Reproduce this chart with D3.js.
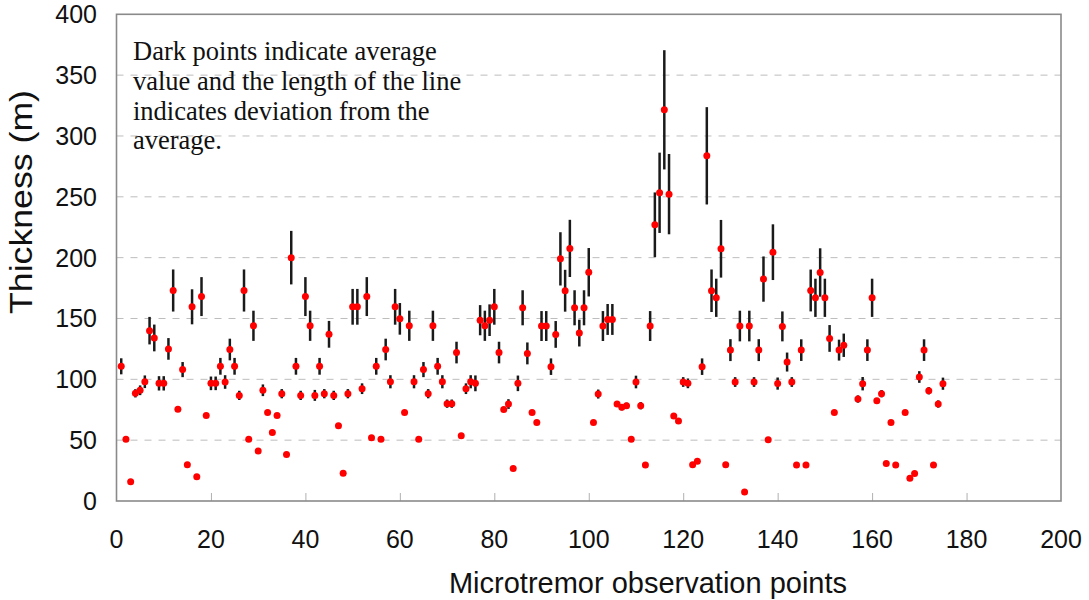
<!DOCTYPE html>
<html>
<head>
<meta charset="utf-8">
<script src="https://cdn.jsdelivr.net/npm/d3@7"></script>
<style>
  html, body { margin: 0; padding: 0; background: #fff; }
  svg { display: block; }
</style>
</head>
<body>
<svg id="chart" width="1089" height="600"></svg>
<script>
// ---- Data ----
const obsPoints = [
  1,2,3,4,5,6,7,8,9,10,11,12,13,14,15,16,17,18,19,20,
  21,22,23,24,25,26,27,28,29,30,31,32,33,34,35,36,37,38,39,40,
  41,42,43,44,45,46,47,48,49,50,51,52,53,54,55,56,57,58,59,60,
  61,62,63,64,65,66,67,68,69,70,71,72,73,74,75,76,77,78,79,80,
  81,82,83,84,85,86,87,88,89,90,91,92,93,94,95,96,97,98,99,100,
  101,102,103,104,105,106,107,108,109,110,111,112,113,114,115,116,117,118,119,120,
  121,122,123,124,125,126,127,128,129,130,131,132,133,134,135,136,137,138,139,140,
  141,142,143,144,145,146,147,148,149,150,151,152,153,154,157,158,159,160,
  161,162,163,164,165,167,168,169,170,171,172,173,174,175
];
const thickness = [
  110.7,50.8,15.9,88.5,91,98,140,134,96.7,96.7,125,173,75.5,108,29.7,159.6,20,168,70.3,96.7,
  96.7,110.7,97.8,124.5,110.7,86.8,173,50.8,144,41,91,72.8,56.3,70.3,88.2,38.2,200,110.7,86.8,168,
  144,86.8,110.7,88.2,137,86.8,61.8,22.8,88.2,159.6,159.6,92.3,168,52,110.7,50.8,124.5,98,159.6,149.7,
  72.8,144,98,50.8,108,88.2,144,110.7,98,80,80,122,53.6,92.3,98,96.7,148.6,144,148.6,159.6,
  122,75.3,79.7,26.8,96.7,158.8,121.3,72.8,64.6,143.8,143.8,110.4,136.9,199,172.8,207.6,158.8,138,158.8,188,
  64.6,87.9,143.8,149.2,149.2,79.7,77,78.3,50.7,97.8,78.3,29.6,143.8,227,253.3,321.5,252.2,69.8,65.7,97.8,
  96.7,29.7,32.6,110.4,283.7,172.8,167,207.3,29.8,124,97.8,143.8,7.4,143.8,97.8,124,182.4,50.4,204.5,96.5,
  143.5,114.2,97.8,29.6,124,29.6,173,167,187.8,167,133.6,72.8,124,128,83.8,96.4,124,167,
  82.4,88.2,30.9,64.6,29.6,72.8,18.6,22.7,101.9,124,90.6,29.6,79.7,96.4
];
const deviation = [
  6.6,0,0,3.4,4,5.2,11.3,11,5.9,5.9,8.9,17.3,0,6.2,0,14.4,0,16,0,5.6,
  5.6,6.9,5.6,8.9,6.9,3.8,17.3,0,12.4,0,4.8,0,0,0,3.8,0,22,6.9,3.8,16,
  12.4,4.5,6.9,3.8,11,3.8,0,0,3.8,14.7,14.7,4.4,16,0,6.9,0,8.9,5.4,14.7,13,
  0,12.4,5.4,0,6.2,3.8,12.4,6.9,5.4,3.4,3.4,8.9,0,4.4,5.4,6.5,12.4,12.4,13,14.7,
  8.9,1.5,4,0,6.4,14.4,9,0,0,12.3,12.3,6.8,11,21.9,17.2,23.5,14.4,11,14.4,19.9,
  0,3.7,12.3,12.7,12.7,2,2.5,2.5,0,5.2,3,0,12.3,26.6,33,49,33,0,0,4,
  4,0,0,6.8,40,17.5,15.7,23.7,0,9,4,12.6,0,12.6,4,9,18.6,0,22.9,5,
  12.3,7.8,4,0,8.9,0,17.2,15.7,19.9,15.7,11,2,8.6,9.6,3,5.5,8.9,15.7,
  0,3,0,0,0,0,0,0,4.8,8.9,3,0,3,5
];
const xTicks = [0,20,40,60,80,100,120,140,160,180,200];
const yTicks = [0,50,100,150,200,250,300,350,400];
const yGrid = [50,100,150,200,250,300,350];
const noteLines = [
  "Dark points indicate average",
  "value and the length of the line",
  "indicates deviation from the",
  "average."
];
const xTitle = "Microtremor observation points";
const yTitle = "Thickness (m)";

// ---- Drawing ----
const svg = d3.select("#chart");
const x = d3.scaleLinear().domain([0, 200]).range([116.5, 1061]);
const y = d3.scaleLinear().domain([0, 400]).range([501, 14.3]);

const data = obsPoints.map((p, i) => ({ p, v: thickness[i], d: deviation[i] }));

// gridlines
svg.append("g").selectAll("line").data(yGrid).join("line")
  .attr("x1", x(0)).attr("x2", x(200))
  .attr("y1", d => y(d)).attr("y2", d => y(d))
  .attr("stroke", "#bdbdbd").attr("stroke-width", 1)
  .attr("stroke-dasharray", "7,7");

// x axis ticks (inward) using d3 axis
const xAxis = d3.axisBottom(x).tickValues(xTicks.slice(1, -1)).tickSize(-8).tickFormat("");
const gx = svg.append("g").attr("transform", `translate(0,${y(0)})`).call(xAxis);
gx.select(".domain").remove();
gx.selectAll(".tick line").attr("stroke", "#b0b0b0").attr("stroke-width", 1);

// frame
svg.append("rect")
  .attr("x", x(0)).attr("y", y(400))
  .attr("width", x(200) - x(0)).attr("height", y(0) - y(400))
  .attr("fill", "none").attr("stroke", "#8a8a8a").attr("stroke-width", 1.6);

// tick labels
svg.append("g").selectAll("text").data(xTicks).join("text")
  .attr("x", d => x(d)).attr("y", 548)
  .attr("text-anchor", "middle")
  .attr("font-family", "'Liberation Sans', Arial, sans-serif")
  .attr("font-size", 25).attr("fill", "#111")
  .text(d => d);

svg.append("g").selectAll("text").data(yTicks).join("text")
  .attr("x", 97).attr("y", d => y(d))
  .attr("text-anchor", "end").attr("dominant-baseline", "central")
  .attr("font-family", "'Liberation Sans', Arial, sans-serif")
  .attr("font-size", 25).attr("fill", "#111")
  .text(d => d);

// axis titles
svg.append("text")
  .attr("x", 648).attr("y", 593)
  .attr("text-anchor", "middle")
  .attr("font-family", "'Liberation Sans', Arial, sans-serif")
  .attr("font-size", 29).attr("fill", "#111")
  .text(xTitle);

svg.append("text")
  .attr("transform", "translate(32,202) rotate(-90)")
  .attr("text-anchor", "middle")
  .attr("font-family", "'Liberation Sans', Arial, sans-serif")
  .attr("font-size", 31).attr("fill", "#111")
  .attr("textLength", 224).attr("lengthAdjust", "spacingAndGlyphs")
  .text(yTitle);

// note
svg.append("g").selectAll("text").data(noteLines).join("text")
  .attr("x", 133).attr("y", (d, i) => 60 + i * 29.8)
  .attr("font-family", "'Liberation Serif', 'Times New Roman', serif")
  .attr("font-size", 26.5).attr("fill", "#111")
  .text(d => d);

// error bars
svg.append("g").selectAll("line").data(data.filter(d => d.d > 0)).join("line")
  .attr("x1", d => x(d.p)).attr("x2", d => x(d.p))
  .attr("y1", d => y(d.v + d.d)).attr("y2", d => y(d.v - d.d))
  .attr("stroke", "#1a1a1a").attr("stroke-width", 2.5);

// points
svg.append("g").selectAll("circle").data(data).join("circle")
  .attr("cx", d => x(d.p)).attr("cy", d => y(d.v))
  .attr("r", 3.5).attr("fill", "#ff0000");
</script>
</body>
</html>
